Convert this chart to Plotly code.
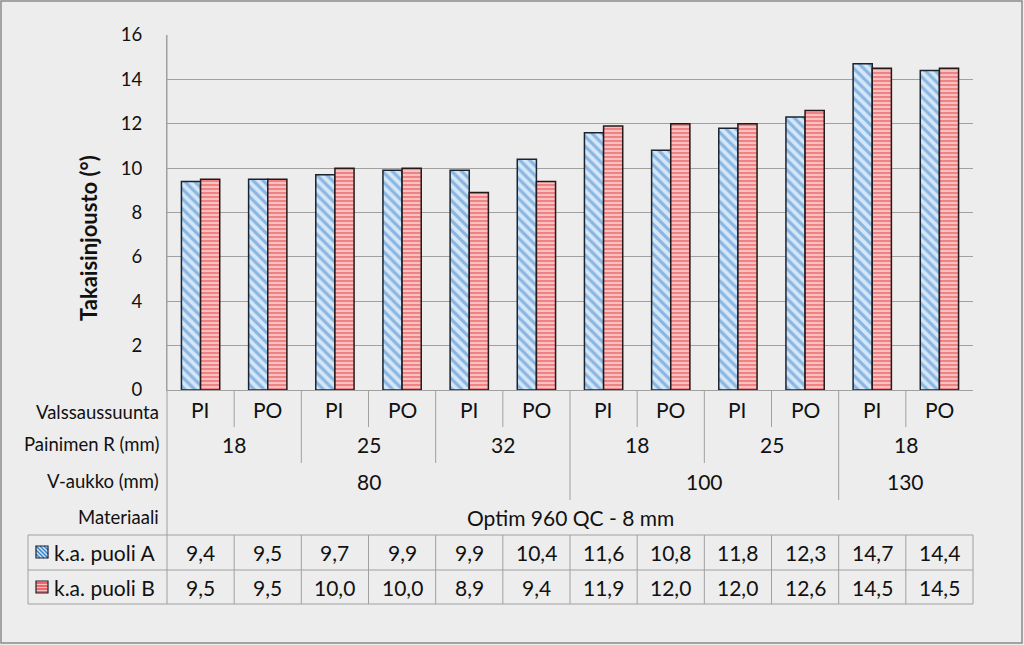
import plotly.graph_objects as go

# ---- data ----
valssaussuunta = ["PI", "PO", "PI", "PO", "PI", "PO", "PI", "PO", "PI", "PO", "PI", "PO"]
painimen_labels = ["18", "25", "32", "18", "25", "18"]
painimen_spans = [2, 2, 2, 2, 2, 2]
vaukko_labels = ["80", "100", "130"]
vaukko_spans = [6, 4, 2]
materiaali = "Optim 960 QC - 8 mm"
series_names = ["k.a. puoli A", "k.a. puoli B"]
puoli_a = [9.4, 9.5, 9.7, 9.9, 9.9, 10.4, 11.6, 10.8, 11.8, 12.3, 14.7, 14.4]
puoli_b = [9.5, 9.5, 10.0, 10.0, 8.9, 9.4, 11.9, 12.0, 12.0, 12.6, 14.5, 14.5]
row_labels = ["Valssaussuunta", "Painimen R (mm)", "V-aukko (mm)", "Materiaali"]
y_ticks = [0, 2, 4, 6, 8, 10, 12, 14, 16]

# ---- layout geometry (pixels) ----
W, H = 1024, 645
L, R, T, B = 167, 973, 35, 390
PW, PH = R - L, B - T
n = len(valssaussuunta)

def xp(px):
    return (px - L) / PW

def yp(py):
    return (B - py) / PH

def xb(k):  # boundary k in paper
    return k / n

FONT = "Lato, 'Open Sans', sans-serif"
TXT = "#111111"
GRID = "#a0a0a0"
BG = "#ededed"

x = list(range(n))
fig = go.Figure()
fig.add_trace(go.Bar(
    x=x, y=puoli_a, name=series_names[0],
    marker=dict(color="#d4e6f7", line=dict(color="#1a2430", width=1.5),
                pattern=dict(shape="\\", fgcolor="#3d86cc", bgcolor="#d4e6f7", size=7, solidity=0.45)),
))
fig.add_trace(go.Bar(
    x=x, y=puoli_b, name=series_names[1],
    marker=dict(color="#f7b3b3", line=dict(color="#241818", width=1.5),
                pattern=dict(shape="-", fgcolor="#e8424a", bgcolor="#f9c0c0", size=4, solidity=0.5)),
))

shapes = []
annotations = []

def vline(k, py0, py1):
    shapes.append(dict(type="line", xref="paper", yref="paper",
                       x0=xb(k), x1=xb(k), y0=yp(py0), y1=yp(py1),
                       line=dict(color=GRID, width=1)))

def hline(px0, px1, py):
    shapes.append(dict(type="line", xref="paper", yref="paper",
                       x0=xp(px0), x1=xp(px1), y0=yp(py), y1=yp(py),
                       line=dict(color=GRID, width=1)))

# axis line continuing through header rows
vline(0, T, 604)
# row header separators
row_y = [409, 444, 481, 517]
label_y = [412, 444, 481, 517]
row_ends = [427, 463, 500]
for k in range(1, n):
    if k in (6, 10):
        vline(k, B, row_ends[2])
    elif k % 2 == 0:
        vline(k, B, row_ends[1])
    else:
        vline(k, B, row_ends[0])

# row labels (right aligned)
for lab, yy in zip(row_labels, label_y):
    annotations.append(dict(text=lab, xref="paper", yref="paper", x=xp(160), y=yp(yy),
                            xanchor="right", yanchor="middle", showarrow=False, borderpad=0,
                            font=dict(family=FONT, size=18.5, color=TXT)))
# Valssaussuunta row
for i, lab in enumerate(valssaussuunta):
    annotations.append(dict(text=lab, xref="x", yref="paper", x=i, y=yp(row_y[0]),
                            xanchor="center", yanchor="middle", showarrow=False,
                            font=dict(family=FONT, size=21, color=TXT)))
# grouped rows
def group_row(labels, spans, yy):
    start = 0
    for lab, s in zip(labels, spans):
        cx = start + (s - 1) / 2
        annotations.append(dict(text=lab, xref="x", yref="paper", x=cx, y=yp(yy),
                                xanchor="center", yanchor="middle", showarrow=False,
                                font=dict(family=FONT, size=21, color=TXT)))
        start += s

group_row(painimen_labels, painimen_spans, row_y[1])
group_row(vaukko_labels, vaukko_spans, row_y[2])
group_row([materiaali], [n], row_y[3])

# data table
tbl_top, tbl_mid, tbl_bot, tbl_left = 535, 570, 604, 28
for py in (tbl_top, tbl_mid, tbl_bot):
    hline(tbl_left, R, py)
shapes.append(dict(type="line", xref="paper", yref="paper", x0=xp(tbl_left), x1=xp(tbl_left),
                   y0=yp(tbl_top), y1=yp(tbl_bot), line=dict(color=GRID, width=1)))
for k in range(1, n + 1):
    vline(k, tbl_top, tbl_bot)

data_rows = [(puoli_a, 552), (puoli_b, 587)]
for vals, yy in data_rows:
    for i, v in enumerate(vals):
        annotations.append(dict(text=f"{v:.1f}".replace(".", ","), xref="x", yref="paper",
                                x=i, y=yp(yy), xanchor="center", yanchor="middle", showarrow=False,
                                font=dict(family=FONT, size=21, color=TXT)))

# legend keys inside the table
def key(py_c, fill, stripe, kind):
    x0, x1 = 36, 48
    y0, y1 = py_c - 6, py_c + 6
    shapes.append(dict(type="rect", xref="paper", yref="paper",
                       x0=xp(x0), x1=xp(x1), y0=yp(y1), y1=yp(y0),
                       fillcolor=fill, line=dict(width=0)))
    if kind == "diag":
        for d in range(-8, 12, 4):
            ax0, ay0 = x0 + d, y0
            ax1, ay1 = x0 + d + 12, y1
            if ax0 < x0:
                ay0 = y0 + (x0 - ax0); ax0 = x0
            if ax1 > x1:
                ay1 = y1 - (ax1 - x1); ax1 = x1
            if ax0 < ax1:
                shapes.append(dict(type="path", xref="paper", yref="paper",
                                   path=f"M{xp(ax0)},{yp(ay0)} L{xp(ax1)},{yp(ay1)}",
                                   line=dict(color=stripe, width=1.6)))
    else:
        for yy in range(y0 + 2, y1, 3):
            shapes.append(dict(type="line", xref="paper", yref="paper", x0=xp(x0), x1=xp(x1),
                               y0=yp(yy), y1=yp(yy), line=dict(color=stripe, width=1.4)))
    shapes.append(dict(type="rect", xref="paper", yref="paper",
                       x0=xp(x0), x1=xp(x1), y0=yp(y1), y1=yp(y0),
                       fillcolor="rgba(0,0,0,0)", line=dict(color="#1a2430", width=1.2)))

key(552, "#d4e6f7", "#3d86cc", "diag")
key(587, "#f9c0c0", "#e8424a", "horiz")
for name, yy in zip(series_names, (552, 587)):
    annotations.append(dict(text=name, xref="paper", yref="paper", x=xp(52), y=yp(yy),
                            xanchor="left", yanchor="middle", showarrow=False,
                            font=dict(family=FONT, size=21, color=TXT)))

# y axis title
annotations.append(dict(text="<b>Takaisinjousto (°)</b>", xref="paper", yref="paper",
                        x=xp(88), y=yp(238), textangle=-90, xanchor="center", yanchor="middle",
                        showarrow=False, font=dict(family=FONT, size=22, color=TXT)))

# outer border
shapes.append(dict(type="rect", xref="paper", yref="paper",
                   x0=xp(1), x1=xp(1022), y0=yp(643), y1=yp(1),
                   line=dict(color="#8a8a8a", width=1.5), fillcolor="rgba(0,0,0,0)"))

fig.update_layout(
    width=W, height=H,
    margin=dict(l=L, r=W - R, t=T, b=H - B, pad=0),
    paper_bgcolor=BG, plot_bgcolor=BG,
    barmode="group", bargap=0.43, bargroupgap=0,
    showlegend=False,
    shapes=shapes, annotations=annotations,
    xaxis=dict(range=[-0.5, n - 0.5], showticklabels=False, showgrid=False, zeroline=False,
               showline=True, linecolor=GRID, linewidth=1, ticks="", fixedrange=True),
    yaxis=dict(range=[0, 16], tickvals=y_ticks, showgrid=True, gridcolor=GRID, gridwidth=1,
               zeroline=False, showline=True, linecolor=GRID, linewidth=1, ticks="",
               ticklabelstandoff=20,
               tickfont=dict(family=FONT, size=18.5, color=TXT)),
    font=dict(family=FONT, color=TXT),
)

fig.write_html("out.html", config={"displayModeBar": False},
               post_script="document.body.style.margin='0';document.body.style.background='#ededed';")
